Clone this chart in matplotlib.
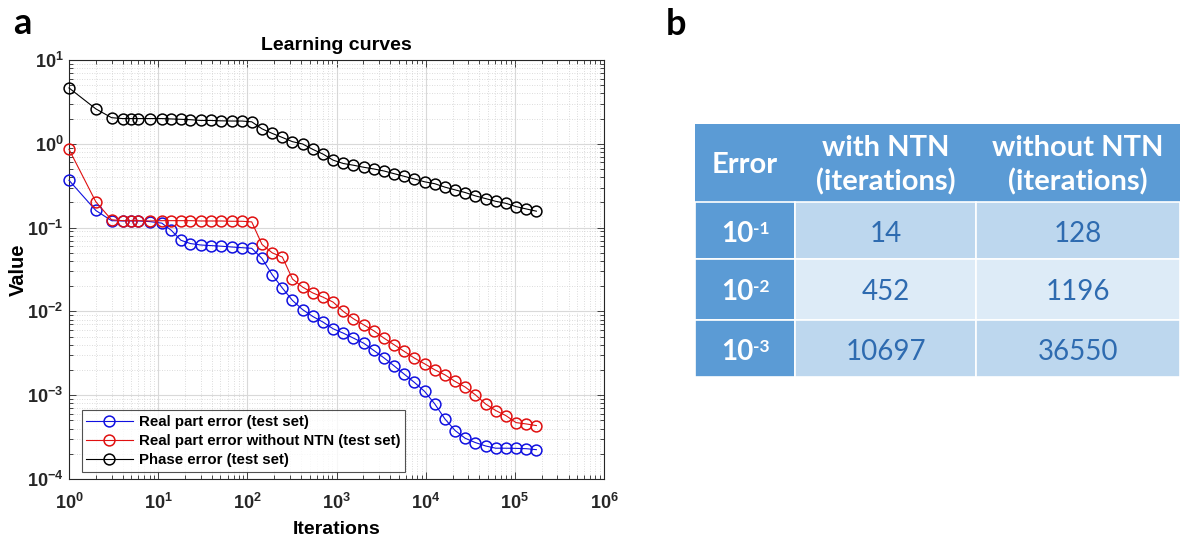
import math

import matplotlib
matplotlib.use('Agg')
import matplotlib.pyplot as plt
from matplotlib.patches import Rectangle
from matplotlib.ticker import FixedLocator, FuncFormatter, LogLocator, NullFormatter

plt.rcParams['font.family'] = ['Liberation Sans', 'DejaVu Sans']
plt.rcParams['mathtext.fontset'] = 'custom'
plt.rcParams['mathtext.rm'] = 'Liberation Sans:bold'
plt.rcParams['mathtext.bf'] = 'Liberation Sans:bold'
plt.rcParams['mathtext.it'] = 'Liberation Sans:bold'

# Данные кривых обучения
iterations = [1, 2, 3, 4, 5, 6, 8, 11, 14, 18, 23, 30, 39, 51, 67, 87, 112, 146, 190, 247,
              321, 417, 542, 705, 917, 1192, 1550, 2015, 2620, 3405, 4427, 5755, 7482, 9727,
              12645, 16438, 21370, 27780, 36115, 46950, 61034, 79344, 103147, 134092, 174320]
real_error = [0.367, 0.16, 0.121, 0.12, 0.12, 0.12, 0.118, 0.113, 0.093, 0.0706,
              0.0645, 0.062, 0.061, 0.060, 0.0587, 0.0576, 0.0566, 0.0428, 0.0274, 0.019,
              0.0135, 0.0105, 0.0087, 0.00746, 0.0062, 0.0055, 0.0048, 0.00418, 0.00342, 0.00279,
              0.00224, 0.00178, 0.00142, 0.00111, 0.000787, 0.000521, 0.000379, 0.000306, 0.000272, 0.000248,
              0.000233, 0.000233, 0.000232, 0.00023, 0.000224]
real_error_no_ntn = [0.86, 0.203, 0.124, 0.121, 0.121, 0.121, 0.12, 0.121, 0.121, 0.121,
                     0.121, 0.12, 0.12, 0.12, 0.119, 0.119, 0.117, 0.063, 0.05, 0.0445,
                     0.0243, 0.0195, 0.0166, 0.0148, 0.0129, 0.01, 0.00817, 0.00693, 0.00587, 0.0048,
                     0.004, 0.00333, 0.00277, 0.00237, 0.00201, 0.00175, 0.00146, 0.00125, 0.00101, 0.000787,
                     0.000656, 0.000571, 0.000471, 0.000454, 0.000434]
phase_error = [4.64, 2.61, 2.05, 2.0, 2.0, 2.0, 2.0, 2.0, 1.98, 1.96,
               1.94, 1.90, 1.90, 1.88, 1.87, 1.87, 1.83, 1.51, 1.33, 1.19,
               1.06, 0.995, 0.858, 0.754, 0.638, 0.582, 0.555, 0.525, 0.501, 0.474,
               0.44, 0.409, 0.38, 0.352, 0.334, 0.304, 0.282, 0.262, 0.239, 0.222,
               0.206, 0.195, 0.178, 0.167, 0.157]
x_decades = [1, 10, 100, 1e3, 1e4, 1e5, 1e6]
y_decades = [1e-4, 1e-3, 1e-2, 1e-1, 1, 10]

# Данные таблицы
table_header = ['Error', 'with NTN\n(iterations)', 'without NTN\n(iterations)']
error_exponents = [-1, -2, -3]
with_ntn = [14, 452, 10697]
without_ntn = [128, 1196, 36550]

W, H = 1188, 538
fig = plt.figure(figsize=(W / 100, H / 100), dpi=100)

# Панель a: кривые обучения
ax = fig.add_axes([69 / W, 1 - 479 / H, 535 / W, 419 / H])
series = [
    (real_error, '#1010e0', 'Real part error (test set)'),
    (real_error_no_ntn, '#e01010', 'Real part error without NTN (test set)'),
    (phase_error, 'black', 'Phase error (test set)'),
]
for values, color, label in series:
    ax.plot(iterations, values, '-o', color=color, lw=0.8, ms=7.8, mfc='none', mew=1.1,
            label=label, clip_on=False, zorder=3)

ax.set_xscale('log')
ax.set_yscale('log')
ax.set_xlim(x_decades[0], x_decades[-1])
ax.set_ylim(y_decades[0], y_decades[-1])
ax.xaxis.set_major_locator(FixedLocator(x_decades))
ax.yaxis.set_major_locator(FixedLocator(y_decades))
ax.xaxis.set_minor_locator(LogLocator(base=10, subs=range(2, 10), numticks=20))
ax.yaxis.set_minor_locator(LogLocator(base=10, subs=range(2, 10), numticks=20))
ax.xaxis.set_minor_formatter(NullFormatter())
ax.yaxis.set_minor_formatter(NullFormatter())
power_fmt = FuncFormatter(lambda v, pos: r'$10^{%d}$' % round(math.log10(v)))
ax.xaxis.set_major_formatter(power_fmt)
ax.yaxis.set_major_formatter(power_fmt)
ax.tick_params(which='both', direction='in', top=True, right=True, colors='#262626', labelsize=13)
ax.tick_params(which='major', length=5, width=0.6)
ax.tick_params(which='minor', length=3, width=0.6)
ax.tick_params(axis='x', pad=10)
ax.tick_params(axis='y', pad=4)
for spine in ax.spines.values():
    spine.set_color('#262626')
    spine.set_linewidth(0.8)
ax.grid(True, which='major', color='#d9d9d9', lw=0.8, ls='-')
ax.grid(True, which='minor', color='#d0d0d0', lw=0.6, ls=(0, (1, 2)))
ax.set_axisbelow(True)

ax.set_title('Learning curves', fontsize=14, fontweight='bold', pad=7)
ax.set_xlabel('Iterations', fontsize=14, fontweight='bold', labelpad=6)
ax.set_ylabel('Value', fontsize=14.5, fontweight='bold', labelpad=-1)
leg = ax.legend(loc='lower left', bbox_to_anchor=(0.018, 0.01), prop={'weight': 'bold', 'size': 10.8},
                frameon=True, fancybox=False, edgecolor='#262626', handlelength=3.1,
                borderpad=0.3, labelspacing=0.35, handletextpad=0.4, borderaxespad=0.2)
leg.get_frame().set_linewidth(0.8)

fig.text(13 / W, 1 - 34 / H, 'a', fontsize=26, fontweight='bold', family=['Lato', 'DejaVu Sans'])
fig.text(666 / W, 1 - 35 / H, 'b', fontsize=26, fontweight='bold', family=['Lato', 'DejaVu Sans'])

# Панель b: таблица
tleft, ttop, tright, tbottom = 695, 124, 1180, 377
tab = fig.add_axes([tleft / W, 1 - tbottom / H, (tright - tleft) / W, (tbottom - ttop) / H])
tab.set_xlim(0, tright - tleft)
tab.set_ylim(tbottom - ttop, 0)
tab.axis('off')

col_edges = [0, 100, 281, tright - tleft]
row_edges = [0, 78, 135, 196, tbottom - ttop]
dark = '#5b9bd5'
body_colors = ['#bdd7ee', '#ddebf7', '#bdd7ee']
text_blue = '#2e6bb0'
tfont = ['Lato', 'DejaVu Sans']

tab.add_patch(Rectangle((0, 0), col_edges[-1], row_edges[1], fc=dark, ec='none'))
for c in range(3):
    x0, x1 = col_edges[c], col_edges[c + 1]
    tab.text((x0 + x1) / 2, row_edges[1] / 2 + 2, table_header[c], ha='center', va='center',
             color='white', fontsize=21, fontweight='bold', family=tfont, linespacing=1.35)

for r in range(3):
    y0, y1 = row_edges[r + 1], row_edges[r + 2]
    ym = (y0 + y1) / 2
    tab.add_patch(Rectangle((0, y0), col_edges[1], y1 - y0, fc=dark, ec='white', lw=1.2))
    for c in (1, 2):
        tab.add_patch(Rectangle((col_edges[c], y0), col_edges[c + 1] - col_edges[c], y1 - y0,
                                fc=body_colors[r], ec='white', lw=1.2))
    base = tab.text(col_edges[1] / 2 - 8, ym + 3, '10', ha='center', va='center', color='white',
                    fontsize=20, fontweight='bold', family=tfont)
    tab.annotate(str(error_exponents[r]), xy=(1, 1.0), xycoords=base, ha='left', va='top',
                 color='white', fontsize=12.5, fontweight='bold', family=tfont)
    tab.text((col_edges[1] + col_edges[2]) / 2, ym + 3, str(with_ntn[r]), ha='center', va='center',
             color=text_blue, fontsize=20, family=tfont)
    tab.text((col_edges[2] + col_edges[3]) / 2, ym + 3, str(without_ntn[r]), ha='center', va='center',
             color=text_blue, fontsize=20, family=tfont)

fig.savefig('out.png', dpi=100)
